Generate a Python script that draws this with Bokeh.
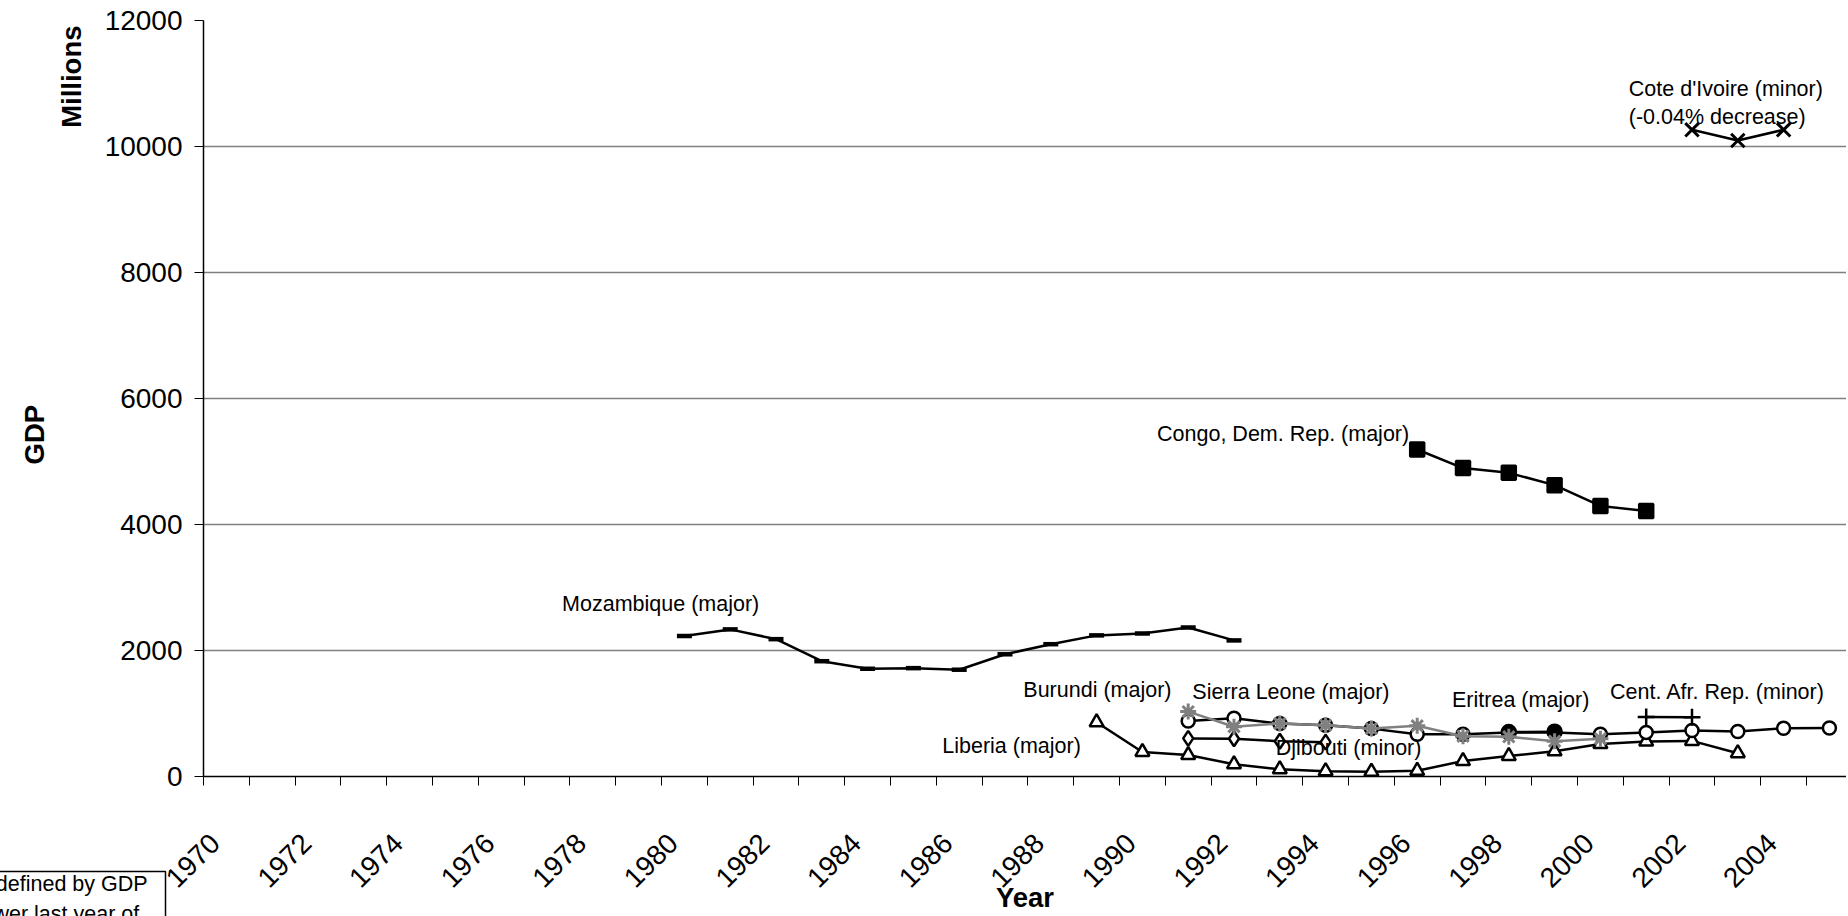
import math
from bokeh.plotting import figure
from bokeh.models import FixedTicker, ColumnDataSource, Range1d, Title, LinearAxis
from bokeh.core.properties import value
from bokeh.embed import file_html
from bokeh.resources import INLINE

FONT = "Liberation Sans"

# ---------------- data (GDP, millions) ----------------
moz_years = list(range(1980, 1993))
moz_gdp = [2230, 2335, 2180, 1830, 1710, 1720, 1695, 1940, 2100, 2240, 2270, 2365, 2160]

congo_years = list(range(1996, 2002))
congo_gdp = [5190, 4895, 4820, 4625, 4295, 4215]

civ_years = [2002, 2003, 2004]
civ_gdp = [10265, 10095, 10265]

liberia_years = list(range(1989, 2004))
liberia_gdp = [860, 390, 340, 195, 115, 85, 77, 90, 245, 325, 400, 515, 555, 565, 370]

burundi_years = list(range(1991, 2006))
burundi_gdp = [880, 925, 840, 815, 760, 672, 670, 700, 700, 670, 700, 730, 715, 767, 770]

sierra_years = list(range(1991, 2001))
sierra_gdp = [1030, 790, 840, 815, 760, 805, 640, 630, 560, 600]

djibouti_years = [1991, 1992, 1993, 1994]
djibouti_gdp = [605, 600, 560, 545]

eritrea_years = [1998, 1999]
eritrea_gdp = [705, 712]

car_years = [2001, 2002]
car_gdp = [945, 940]

year_labels = list(range(1970, 2006, 2))
y_ticks = [0, 2000, 4000, 6000, 8000, 10000, 12000]

ann_text = ["Mozambique (major)", "Congo, Dem. Rep. (major)", "Cote d'Ivoire (minor)",
            "(-0.04% decrease)", "Burundi (major)", "Liberia (major)",
            "Sierra Leone (major)", "Eritrea (major)", "Cent. Afr. Rep. (minor)",
            "Djibouti (minor)"]
ann_x = [1977.33, 1990.32, 2000.62, 2000.62, 1987.40, 1985.63, 1991.09, 1996.76, 2000.21, 1992.91]
ann_y = [2741, 5429, 10905, 10476, 1376, 492, 1349, 1222, 1349, 456]

note_text = ("Categories defined by GDP   \n"
             "higher or lower last year of")


def safe_set(obj, **kw):
    for k, v in kw.items():
        try:
            setattr(obj, k, v)
        except Exception:
            pass


# ---------------- figure ----------------
W, H = 1846, 916
p = figure(width=W, height=H, output_backend="svg", toolbar_location=None,
           x_range=Range1d(1969.5, 1969.5 + (W - 203) / 45.8), y_range=Range1d(0, 12000),
           min_border_left=203, min_border_right=0, min_border_top=20,
           min_border_bottom=H - 776)
p.outline_line_color = None
p.background_fill_color = "white"
p.border_fill_color = "white"

p.xgrid.visible = False
p.ygrid.grid_line_color = "#808080"
p.ygrid.grid_line_width = 1.5
p.ygrid.ticker = FixedTicker(ticks=y_ticks)

p.yaxis.ticker = FixedTicker(ticks=y_ticks, minor_ticks=[])
p.yaxis.major_tick_out = 9
p.yaxis.major_tick_in = 0
p.yaxis.minor_tick_out = 0
p.yaxis.minor_tick_in = 0
p.yaxis.major_label_standoff = 12
p.yaxis.major_label_text_font = FONT
p.yaxis.major_label_text_font_size = "28px"
p.yaxis.major_label_text_color = "black"
p.yaxis.axis_line_color = "black"
p.yaxis.axis_line_width = 1.5
p.yaxis.major_tick_line_color = "black"

# category boundaries carry the tick marks; labels sit a little left of category centres
boundaries = [1969.5 + i for i in range(37)]
label_pos = [yr - 0.25 for yr in year_labels]
p.xaxis.ticker = FixedTicker(ticks=label_pos, minor_ticks=boundaries)
p.xaxis.major_label_overrides = {pos: str(yr) for pos, yr in zip(label_pos, year_labels)}
p.xaxis.major_tick_out = 0
p.xaxis.major_tick_in = 0
p.xaxis.minor_tick_out = 9
p.xaxis.minor_tick_in = 0
p.xaxis.minor_tick_line_color = "black"
p.xaxis.major_label_orientation = math.pi / 4
p.xaxis.major_label_standoff = 53
p.xaxis.major_label_text_font = FONT
p.xaxis.major_label_text_font_size = "28px"
p.xaxis.major_label_text_color = "black"
p.xaxis.axis_line_color = "black"
p.xaxis.axis_line_width = 1.5

LW = 2.5

def draw(xs, ys, marker, size, color="black", fill="white", lw=LW, mlw=LW):
    p.line(xs, ys, line_color=color, line_width=lw)
    p.scatter(xs, ys, marker=marker, size=size, line_color=color,
              fill_color=fill, line_width=mlw)

draw(moz_years, moz_gdp, "dash", 15, mlw=4.5)
draw(congo_years, congo_gdp, "square", 14, fill="black")
draw(civ_years, civ_gdp, "x", 19, mlw=3)
draw(liberia_years, liberia_gdp, "triangle", 14)
draw(burundi_years, burundi_gdp, "circle", 13)
draw(djibouti_years, djibouti_gdp, "diamond", 15)
draw(eritrea_years, eritrea_gdp, "circle", 14, fill="black")
draw(sierra_years, sierra_gdp, "asterisk", 16, color="#808080", fill="#808080", mlw=3)
draw(car_years, car_gdp, "cross", 17)

src = ColumnDataSource(dict(x=ann_x, y=ann_y, text=ann_text))
p.text(x="x", y="y", text="text", source=src, text_font=value(FONT),
       text_font_size="21.5px", text_align="left", text_baseline="alphabetic",
       text_color="black")

# vertical titles on the left
millions = Title(text="Millions", align="right", vertical_align="bottom", offset=5,
                 text_font=FONT, text_font_size="27.5px", text_font_style="bold",
                 text_color="black")
safe_set(millions, standoff=29)
p.add_layout(millions, "left")

gdp = Title(text="GDP", align="left", vertical_align="bottom", offset=312,
            text_font=FONT, text_font_size="27.5px", text_font_style="bold",
            text_color="black")
safe_set(gdp, standoff=-21)
p.add_layout(gdp, "left")

# note box at the lower left (partly outside the picture)
note = Title(text=note_text, align="right", vertical_align="top", offset=W - 165,
             text_font=FONT, text_font_size="21.5px", text_font_style="normal",
             text_color="black", border_line_color="black", border_line_width=1.5,
             background_fill_color="white")
safe_set(note, standoff=-54, text_line_height=1.25)
p.add_layout(note, "below")

# "Year" title carried by a bare extra axis
year_axis = LinearAxis(ticker=FixedTicker(ticks=[]), axis_label="Year",
                       axis_label_standoff=-19, axis_label_text_font=FONT,
                       axis_label_text_font_size="27.5px",
                       axis_label_text_font_style="bold",
                       axis_label_text_color="black", axis_line_color=None,
                       major_tick_out=0, major_tick_in=0, minor_tick_out=0,
                       minor_tick_in=0, major_label_standoff=0)
p.add_layout(year_axis, "below")

open("out.html", "w").write(file_html(p, INLINE))
